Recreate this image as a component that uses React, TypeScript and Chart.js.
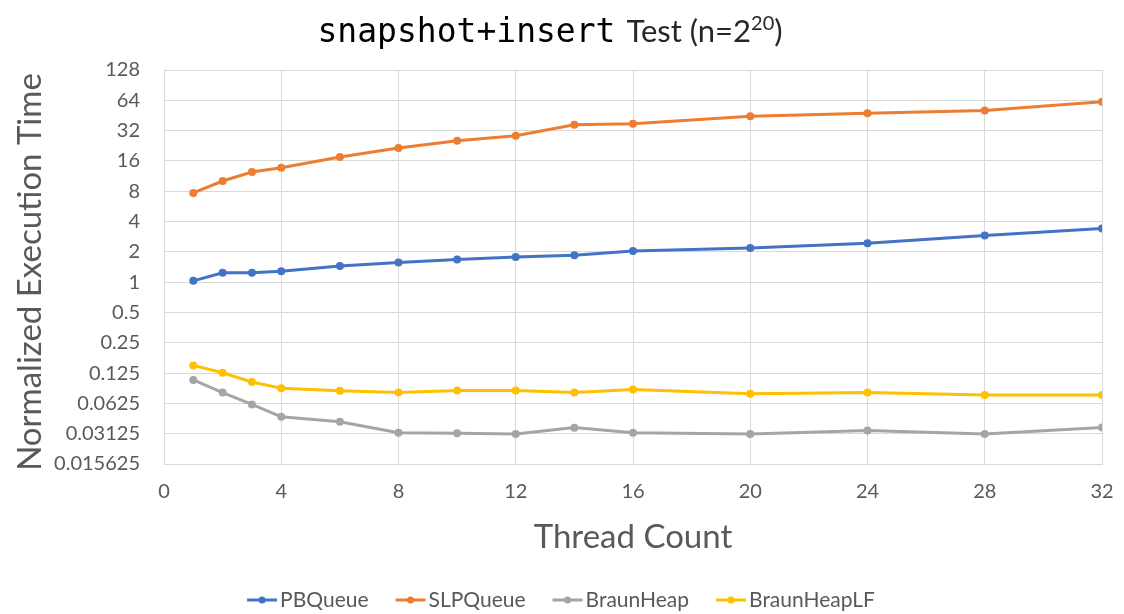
import React, { useEffect, useRef } from "react";
import { Chart, registerables } from "chart.js";

Chart.register(...registerables);

// ---- data ----
const threads = [1, 2, 3, 4, 6, 8, 10, 12, 14, 16, 20, 24, 28, 32];
const pbQueue = [1.03, 1.24, 1.24, 1.28, 1.45, 1.57, 1.68, 1.78, 1.85, 2.04, 2.19, 2.44, 2.91, 3.41];
const slpQueue = [7.7, 10.1, 12.4, 13.7, 17.5, 21.5, 25.4, 28.4, 36.5, 37.5, 44.4, 47.5, 50.8, 62];
const braunHeap = [0.107, 0.08, 0.061, 0.046, 0.041, 0.032, 0.0315, 0.031, 0.0359, 0.032, 0.031, 0.0337, 0.031, 0.0361];
const braunHeapLF = [0.149, 0.126, 0.102, 0.0885, 0.0835, 0.08, 0.084, 0.084, 0.08, 0.086, 0.078, 0.08, 0.0755, 0.0755];

const seriesNames = ["PBQueue", "SLPQueue", "BraunHeap", "BraunHeapLF"];
const seriesValues = [pbQueue, slpQueue, braunHeap, braunHeapLF];
const seriesColors = ["#4472C4", "#ED7D31", "#A5A5A5", "#FFC000"];

const yTickValues = [0.015625, 0.03125, 0.0625, 0.125, 0.25, 0.5, 1, 2, 4, 8, 16, 32, 64, 128];
const yTickLabels = ["0.015625", "0.03125", "0.0625", "0.125", "0.25", "0.5", "1", "2", "4", "8", "16", "32", "64", "128"];
const xMin = 0;
const xMax = 32;
const xStep = 4;

const titleMono = "snapshot+insert";
const titleRest = "Test (n=2";
const titleSup = "20";
const titleEnd = ")";
const xTitle = "Thread Count";
const yTitle = "Normalized Execution Time";

const SANS = "Lato, 'Open Sans', sans-serif";
const MONO = "'DejaVu Sans Mono', 'Liberation Mono', monospace";
const TEXT_GRAY = "#595959";
const GRID = "#D9D9D9";

const textPlugin = {
  id: "customText",
  afterDraw(chart: any) {
    const ctx = chart.ctx as CanvasRenderingContext2D;
    const area = chart.chartArea;
    ctx.save();

    // Title (mixed fonts)
    const monoFont = `33px ${MONO}`;
    const restFont = `31px ${SANS}`;
    const supFont = `20px ${SANS}`;
    ctx.font = monoFont;
    const w1 = ctx.measureText(titleMono).width;
    ctx.font = restFont;
    const wSpace = ctx.measureText(" ").width + 3;
    const w2 = ctx.measureText(titleRest).width;
    const w4 = ctx.measureText(titleEnd).width;
    ctx.font = supFont;
    const w3 = ctx.measureText(titleSup).width;
    const total = w1 + wSpace + w2 + w3 + w4;
    let tx = 550 - total / 2;
    const baseY = 42;
    ctx.fillStyle = "#000000";
    ctx.textBaseline = "alphabetic";
    ctx.textAlign = "left";
    ctx.font = monoFont;
    ctx.fillText(titleMono, tx, baseY);
    tx += w1 + wSpace;
    ctx.font = restFont;
    ctx.fillStyle = "#262626";
    ctx.fillText(titleRest, tx, baseY);
    tx += w2;
    ctx.font = supFont;
    ctx.fillText(titleSup, tx, baseY - 12);
    tx += w3;
    ctx.font = restFont;
    ctx.fillText(titleEnd, tx, baseY);

    // Axis titles
    ctx.fillStyle = TEXT_GRAY;
    ctx.font = `33px ${SANS}`;
    ctx.textAlign = "center";
    ctx.textBaseline = "middle";
    ctx.fillText(xTitle, (area.left + area.right) / 2, 537);

    ctx.save();
    ctx.translate(30, (area.top + area.bottom) / 2 + 5);
    ctx.rotate(-Math.PI / 2);
    ctx.fillText(yTitle, 0, 0);
    ctx.restore();

    // Legend
    ctx.font = `21px ${SANS}`;
    const markerW = 30;
    const textGap = 3;
    const itemGap = 27;
    const widths = seriesNames.map((n) => markerW + textGap + ctx.measureText(n).width);
    const legendTotal = widths.reduce((a, b) => a + b, 0) + itemGap * (seriesNames.length - 1);
    let lx = 561 - legendTotal / 2;
    const ly = 600;
    seriesNames.forEach((name, i) => {
      ctx.strokeStyle = seriesColors[i];
      ctx.lineWidth = 3;
      ctx.beginPath();
      ctx.moveTo(lx, ly);
      ctx.lineTo(lx + markerW, ly);
      ctx.stroke();
      ctx.fillStyle = seriesColors[i];
      ctx.beginPath();
      ctx.arc(lx + markerW / 2, ly, 3.5, 0, Math.PI * 2);
      ctx.fill();
      ctx.fillStyle = TEXT_GRAY;
      ctx.textAlign = "left";
      ctx.textBaseline = "middle";
      ctx.fillText(name, lx + markerW + textGap, ly);
      lx += widths[i] + itemGap;
    });

    ctx.restore();
  },
};

export default function App() {
  const canvasRef = useRef<HTMLCanvasElement | null>(null);

  useEffect(() => {
    document.body.style.margin = "0";
    const canvas = canvasRef.current;
    if (!canvas) return;
    const datasets = seriesNames.map((name, i) => ({
      label: name,
      data: threads.map((t, j) => ({ x: t, y: seriesValues[i][j] })),
      borderColor: seriesColors[i],
      backgroundColor: seriesColors[i],
      pointBackgroundColor: seriesColors[i],
      pointBorderColor: seriesColors[i],
      borderWidth: 3,
      pointRadius: 4,
      pointBorderWidth: 0,
      tension: 0,
    }));

    const chart = new Chart(canvas, {
      type: "line",
      data: { datasets },
      options: {
        animation: false,
        responsive: false,
        maintainAspectRatio: false,
        layout: { padding: { top: 70, right: 22, left: 0, bottom: 0 } },
        plugins: {
          legend: { display: false },
          title: { display: false },
          tooltip: { enabled: false },
        },
        scales: {
          x: {
            type: "linear",
            min: xMin,
            max: xMax,
            afterFit: (scale: any) => {
              scale.height = 150;
              scale.paddingLeft = 0;
              scale.paddingRight = 0;
            },
            ticks: {
              stepSize: xStep,
              color: TEXT_GRAY,
              font: { family: SANS, size: 20 },
              padding: 16,
              maxRotation: 0,
            },
            grid: { color: GRID, lineWidth: 1, drawTicks: false },
            border: { color: GRID, width: 1 },
          },
          y: {
            type: "logarithmic",
            min: yTickValues[0],
            max: yTickValues[yTickValues.length - 1],
            afterFit: (scale: any) => {
              scale.width = 164;
              scale.paddingTop = 0;
              scale.paddingBottom = 0;
            },
            afterBuildTicks: (scale: any) => {
              scale.ticks = yTickValues.map((v) => ({ value: v, major: false }));
            },
            ticks: {
              color: TEXT_GRAY,
              font: { family: SANS, size: 20 },
              padding: 24,
              autoSkip: false,
              callback: (value: any) => {
                const idx = yTickValues.indexOf(Number(value));
                return idx >= 0 ? yTickLabels[idx] : "";
              },
            },
            grid: { color: GRID, lineWidth: 1, drawTicks: false },
            border: { color: GRID, width: 1 },
          },
        },
      },
      plugins: [textPlugin],
    } as any);

    return () => {
      chart.destroy();
    };
  }, []);

  return (
    <div style={{ width: 1124, height: 614, background: "#ffffff" }}>
      <canvas ref={canvasRef} width={1124} height={614} style={{ display: "block" }} />
    </div>
  );
}
